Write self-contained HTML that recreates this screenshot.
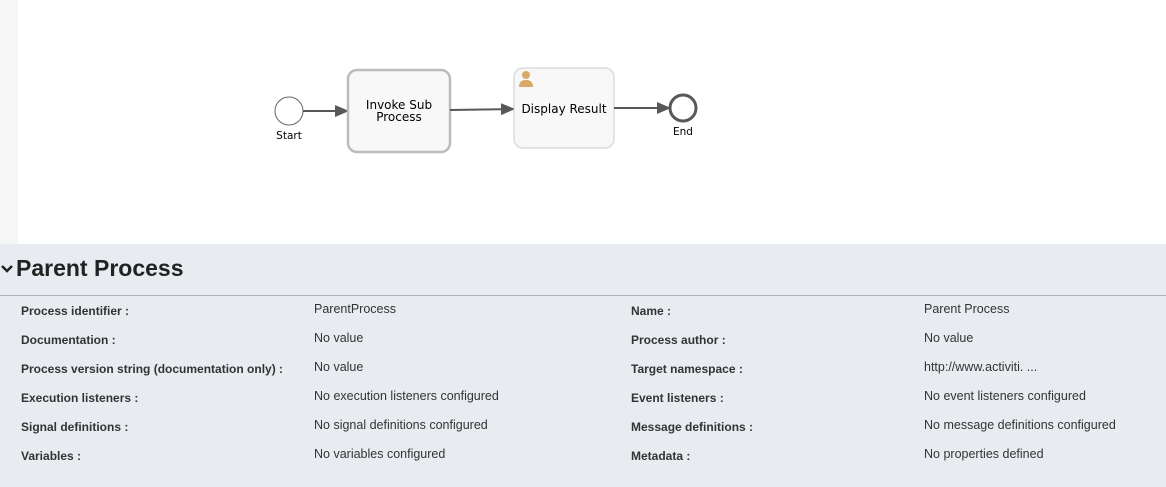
<!DOCTYPE html>
<html><head><style>
body{margin:0;width:1166px;height:487px;position:relative;overflow:hidden;background:#fff;font-family:"Liberation Sans",sans-serif}
.strip{position:absolute;left:0;top:0;width:18px;height:244px;background:#f6f6f6}
.panel{position:absolute;left:0;top:244px;width:1166px;height:243px;background:#e8ecf0}
h1{position:absolute;left:16px;top:255px;margin:0;font-size:23px;font-weight:bold;color:#222}
.chev{position:absolute;left:1px;top:263px}
.hr{position:absolute;left:0;top:295px;width:1166px;height:1px;background:#b0b4b8}
.l,.v{position:absolute;font-size:12.5px;color:#333}
.l{font-weight:bold;font-size:12px}
</style></head><body>
<div class="strip"></div>
<svg width="1166" height="244" style="position:absolute;left:0;top:0" font-family="'DejaVu Sans',sans-serif">
<defs><marker id="a" markerWidth="14" markerHeight="12" refX="13" refY="6" orient="auto" markerUnits="userSpaceOnUse"><path d="M0,0L14,6L0,12z" fill="#585858"/></marker></defs>
<circle cx="289" cy="111" r="14" fill="#fff" stroke="#666" stroke-width="1"/>
<text x="289" y="139" font-size="10.5" text-anchor="middle">Start</text>
<line x1="303" y1="111" x2="348" y2="111" stroke="#585858" stroke-width="2" marker-end="url(#a)"/>
<rect x="348" y="70" width="102" height="82" rx="9" fill="#f8f8f8" stroke="#bbb" stroke-width="2.5"/>
<text x="399" y="109" font-size="12" text-anchor="middle">Invoke Sub</text>
<text x="399" y="121" font-size="12" text-anchor="middle">Process</text>
<line x1="450" y1="110" x2="514" y2="109" stroke="#585858" stroke-width="2" marker-end="url(#a)"/>
<rect x="514" y="68" width="100" height="80" rx="9" fill="#f8f8f8" stroke="#ccc" stroke-width="1"/>
<circle cx="526" cy="75" r="4" fill="#d9a967"/><path d="M519,87q0,-7 7,-7q7,0 7,7z" fill="#d9a967"/>
<text x="564" y="113" font-size="12" text-anchor="middle">Display Result</text>
<line x1="614" y1="108" x2="670" y2="108" stroke="#585858" stroke-width="2" marker-end="url(#a)"/>
<circle cx="683" cy="108" r="13" fill="#fff" stroke="#585858" stroke-width="3"/>
<text x="683" y="135" font-size="10.5" text-anchor="middle">End</text>
</svg>
<div class="panel"></div>
<svg class="chev" width="12" height="12"><path d="M1,3L6,8L11,3" fill="none" stroke="#222" stroke-width="2.5"/></svg>
<h1>Parent Process</h1>
<div class="hr"></div>
<div class="l" style="left:21px;top:304px">Process identifier :</div><div class="v" style="left:314px;top:302px">ParentProcess</div>
<div class="l" style="left:631px;top:304px">Name :</div><div class="v" style="left:924px;top:302px">Parent Process</div>
<div class="l" style="left:21px;top:333px">Documentation :</div><div class="v" style="left:314px;top:331px">No value</div>
<div class="l" style="left:631px;top:333px">Process author :</div><div class="v" style="left:924px;top:331px">No value</div>
<div class="l" style="left:21px;top:362px">Process version string (documentation only) :</div><div class="v" style="left:314px;top:360px">No value</div>
<div class="l" style="left:631px;top:362px">Target namespace :</div><div class="v" style="left:924px;top:360px">http://www.activiti. ...</div>
<div class="l" style="left:21px;top:391px">Execution listeners :</div><div class="v" style="left:314px;top:389px">No execution listeners configured</div>
<div class="l" style="left:631px;top:391px">Event listeners :</div><div class="v" style="left:924px;top:389px">No event listeners configured</div>
<div class="l" style="left:21px;top:420px">Signal definitions :</div><div class="v" style="left:314px;top:418px">No signal definitions configured</div>
<div class="l" style="left:631px;top:420px">Message definitions :</div><div class="v" style="left:924px;top:418px">No message definitions configured</div>
<div class="l" style="left:21px;top:449px">Variables :</div><div class="v" style="left:314px;top:447px">No variables configured</div>
<div class="l" style="left:631px;top:449px">Metadata :</div><div class="v" style="left:924px;top:447px">No properties defined</div>
</body></html>
